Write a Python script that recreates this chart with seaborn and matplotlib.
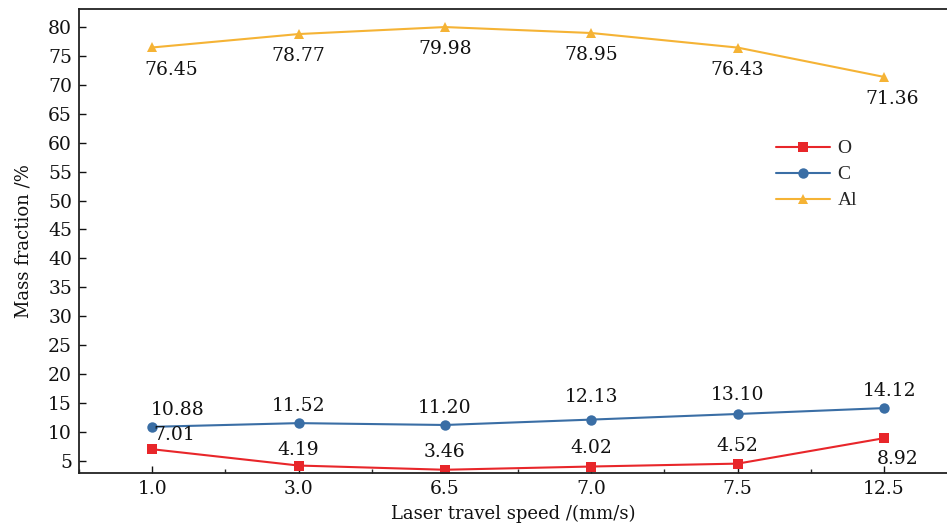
import matplotlib
matplotlib.use("Agg")
import matplotlib.pyplot as plt
import seaborn as sns
import pandas as pd
import numpy as np

speeds = ["1.0", "3.0", "6.5", "7.0", "7.5", "12.5"]
o_vals = [7.01, 4.19, 3.46, 4.02, 4.52, 8.92]
c_vals = [10.88, 11.52, 11.20, 12.13, 13.10, 14.12]
al_vals = [76.45, 78.77, 79.98, 78.95, 76.43, 71.36]
elements = ["O", "C", "Al"]
colors = {"O": "#e8262a", "C": "#3a6ea5", "Al": "#f5b335"}
markers = {"O": "s", "C": "o", "Al": "^"}

rows = []
for el, vals in zip(elements, [o_vals, c_vals, al_vals]):
    for i, (s, v) in enumerate(zip(speeds, vals)):
        rows.append({"pos": i, "speed": s, "element": el, "value": v})
df = pd.DataFrame(rows)

sns.set_theme(style="white")
plt.rcParams["font.family"] = ["DejaVu Serif"]
plt.rcParams["mathtext.fontset"] = "dejavuserif"

fig = plt.figure(figsize=(9.47, 5.25), dpi=100)
ax = fig.add_axes([79/947, 52/525, 1 - 79/947, (473-9)/525])

sns.lineplot(data=df, x="pos", y="value", hue="element", style="element",
             hue_order=elements, style_order=elements,
             palette=colors, markers=markers, dashes=False,
             markersize=7.5, linewidth=1.5, markeredgewidth=0, ax=ax)

# label offsets in points (dx, dy)
off = {
    "O": [(16, 10), (0, 11), (0, 13), (0, 13), (0, 13), (10, -15)],
    "C": [(18, 12), (0, 12), (0, 12), (0, 16), (0, 14), (4, 12)],
    "Al": [(14, -16), (0, -16), (0, -16), (0, -16), (0, -16), (6, -16)],
}
FS = 13.5
for el, vals in zip(elements, [o_vals, c_vals, al_vals]):
    for i, v in enumerate(vals):
        dx, dy = off[el][i]
        ax.annotate(f"{v:.2f}", (i, v), xytext=(dx, dy), textcoords="offset points",
                    ha="center", va="center", fontsize=FS, color="#111111")

ax.set_xlim(-0.5, 5.43)
ax.set_ylim(2.9, 83.1)
ax.set_xticks(range(len(speeds)))
ax.set_xticklabels(speeds)
ax.set_xticks(np.arange(-0.5, 5.5, 1.0), minor=True)
ax.set_yticks(np.arange(5, 81, 5))
ax.tick_params(axis="both", which="major", direction="in", length=5, width=1,
               labelsize=FS, colors="#111111", bottom=True, left=True)
ax.tick_params(axis="x", which="minor", direction="in", length=3, width=1, bottom=True)
ax.tick_params(axis="x", pad=5)
ax.tick_params(axis="y", pad=5)

for side in ["left", "bottom", "top"]:
    ax.spines[side].set_visible(True)
    ax.spines[side].set_color("#222222")
    ax.spines[side].set_linewidth(1.3)
ax.spines["right"].set_visible(False)

ax.set_xlabel("Laser travel speed /(mm/s)", fontsize=13, color="#111111", labelpad=5)
ax.set_ylabel("Mass fraction /%", fontsize=13, color="#111111", labelpad=11)

leg = ax.legend(loc="upper left", bbox_to_anchor=(760/947, 1 - 124/525),
                bbox_transform=fig.transFigure, frameon=False,
                fontsize=13, handlelength=3.0, labelspacing=0.5, handletextpad=0.4)
for t in leg.get_texts():
    t.set_fontfamily("Liberation Serif")
    t.set_fontsize(14)

fig.savefig("out.png", dpi=100)
